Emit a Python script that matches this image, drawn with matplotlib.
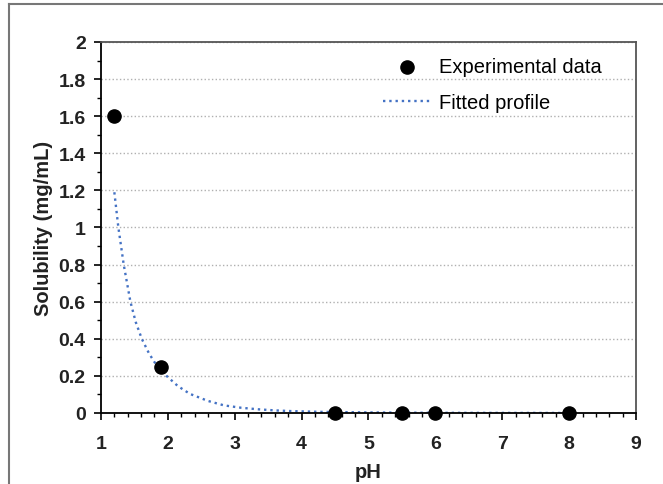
import matplotlib
matplotlib.use("Agg")
import matplotlib.pyplot as plt
from matplotlib.lines import Line2D
from matplotlib.ticker import MultipleLocator

plt.rcParams['font.family'] = ['Liberation Sans', 'DejaVu Sans']

# experimental points
exp_ph = [1.2, 1.9, 4.5, 5.5, 6.0, 8.0]
exp_sol = [1.6, 0.25, 0.0, 0.0, 0.0, 0.0]

# fitted profile
fit_ph = [1.2, 1.26, 1.34, 1.44, 1.52, 1.61, 1.72, 1.82, 1.98, 2.15, 2.33,
          2.6, 2.84, 3.1, 3.35, 3.6, 3.86, 4.3, 5.0, 6.0, 7.0, 8.0]
fit_sol = [1.19, 1.0, 0.8, 0.6, 0.49, 0.4, 0.32, 0.263, 0.2, 0.145, 0.103,
           0.065, 0.041, 0.028, 0.02, 0.014, 0.01, 0.006, 0.003, 0.001, 0.0005, 0.0002]

fig = plt.figure(figsize=(6.63, 4.85), dpi=100)
ax = fig.add_axes([0.1523, 0.1464, 0.807, 0.765])

ax.plot(fit_ph, fit_sol, linestyle=':', color='#4472C4', lw=1.7,
        label='Fitted profile', zorder=2)
ax.scatter(exp_ph, exp_sol, s=90, color='black', label='Experimental data',
           zorder=3, clip_on=False)

ax.set_xlim(1, 9)
ax.set_ylim(0, 2)
ax.xaxis.set_major_locator(MultipleLocator(1))
ax.xaxis.set_minor_locator(MultipleLocator(0.2))
ax.yaxis.set_minor_locator(MultipleLocator(0.1))
ax.set_yticks([0, 0.2, 0.4, 0.6, 0.8, 1.0, 1.2, 1.4, 1.6, 1.8, 2.0])
ax.set_yticklabels(['0', '0.2', '0.4', '0.6', '0.8', '1', '1.2', '1.4', '1.6', '1.8', '2'])

ax.grid(axis='y', which='major', linestyle=':', color='#b0b0b0', lw=1)
ax.set_axisbelow(True)

ax.tick_params(which='major', direction='out', length=5, width=1.2,
               labelsize=14, colors='black', pad=6)
ax.tick_params(axis='x', which='major', pad=11)
ax.tick_params(which='minor', direction='out', length=3, width=1)
for lab in ax.get_xticklabels() + ax.get_yticklabels():
    lab.set_fontweight('bold')
    lab.set_color('#222222')

for s in ['left', 'bottom']:
    ax.spines[s].set_color('black')
    ax.spines[s].set_linewidth(1.3)
for s in ['top', 'right']:
    ax.spines[s].set_color('#555555')
    ax.spines[s].set_linewidth(1.3)

ax.set_xlabel('pH', fontsize=14.5, fontweight='bold', color='#222222', labelpad=7)
ax.set_ylabel('Solubility (mg/mL)', fontsize=14.5, fontweight='bold',
              color='#222222', labelpad=4)

handles, labels = ax.get_legend_handles_labels()
ax.legend(handles[::-1], labels[::-1], loc='upper right', frameon=False,
          fontsize=14.5, handlelength=2.4, handletextpad=0.4,
          borderaxespad=0, labelspacing=0.85, scatterpoints=1,
          bbox_to_anchor=(1 - 26 / 535, 1 - 7 / 371))

# outer frame of the pasted figure
fig.add_artist(Line2D([0.0136, 1.0], [0.99, 0.99], transform=fig.transFigure,
                      color='#777777', lw=1.5))
fig.add_artist(Line2D([0.0136, 0.0136], [0.99, 0.0], transform=fig.transFigure,
                      color='#777777', lw=1.5))

fig.savefig('out.png', dpi=100)
